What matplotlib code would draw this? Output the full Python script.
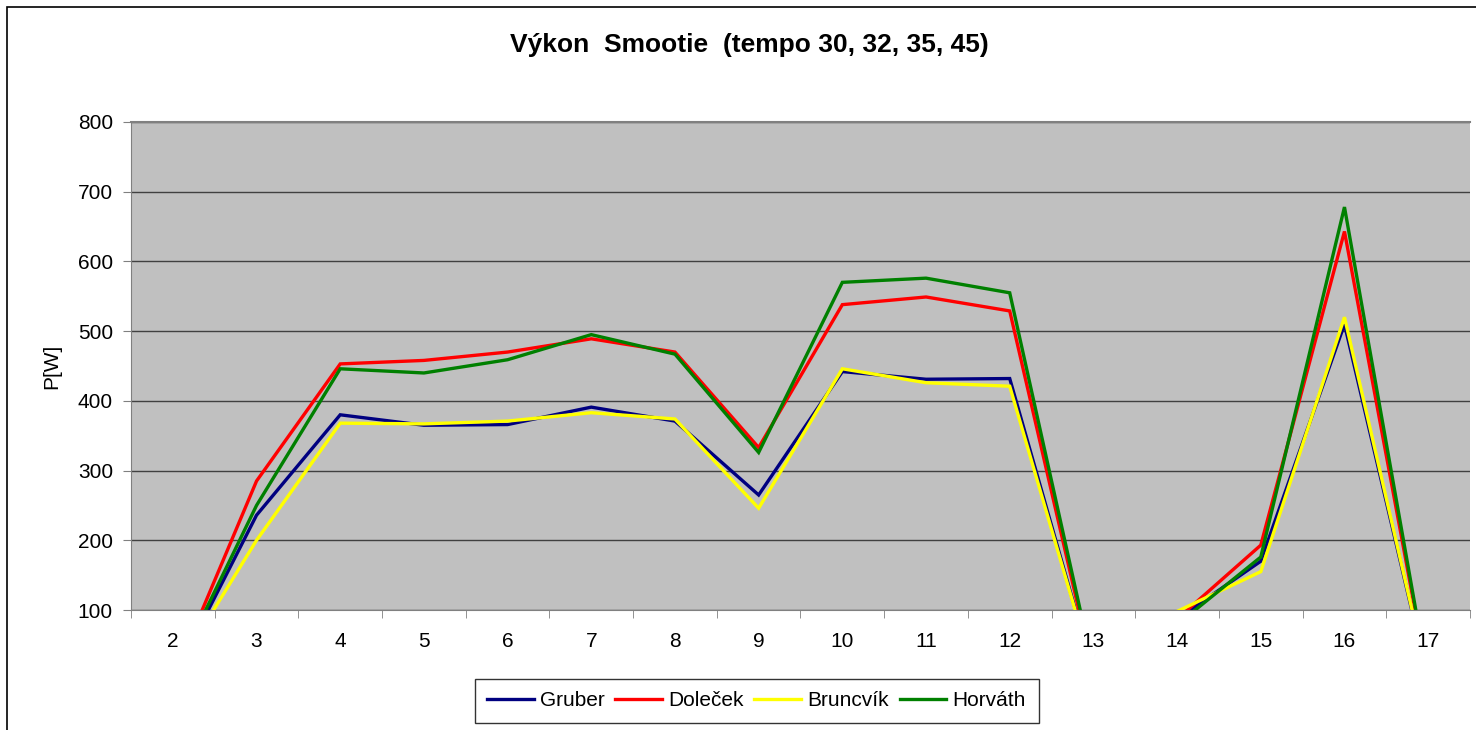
import matplotlib.pyplot as plt
from matplotlib.patches import Rectangle

plt.rcParams['font.family'] = ['Liberation Sans', 'DejaVu Sans']

# kategorie (osa x) a hodnoty výkonu [W]
categories = ['2', '3', '4', '5', '6', '7', '8', '9', '10', '11', '12', '13', '14', '15', '16', '17']
gruber = [0, 236, 380, 365, 366, 391, 371, 265, 442, 431, 432, 10, 87, 170, 510, 0]
dolecek = [0, 285, 453, 458, 470, 489, 470, 333, 538, 549, 529, 10, 87, 193, 643, 0]
bruncvik = [5, 200, 368, 367, 371, 383, 374, 246, 446, 426, 421, 10, 98, 155, 520, 0]
horvath = [3, 250, 446, 440, 459, 495, 467, 326, 570, 576, 555, 15, 79, 176, 678, 0]

series = [
    ('Gruber', gruber, '#000080'),
    ('Doleček', dolecek, '#FF0000'),
    ('Bruncvík', bruncvik, '#FFFF00'),
    ('Horváth', horvath, '#008000'),
]

fig = plt.figure(figsize=(14.76, 7.30), dpi=100)
ax = fig.add_axes([131 / 1476, 1 - 610 / 730, (1470 - 131) / 1476, (610 - 122) / 730])
ax.set_facecolor('#C0C0C0')

x = range(len(categories))
for name, vals, col in series:
    ax.plot(x, vals, color=col, lw=2.4, label=name, solid_joinstyle='miter')

ax.set_xlim(-0.5, len(categories) - 0.5)
ax.set_ylim(100, 800)
ax.set_yticks(range(100, 801, 100))
ax.set_xticks(list(x))
ax.set_xticklabels(categories)
ax.set_xticks([i - 0.5 for i in range(len(categories) + 1)], minor=True)
ax.tick_params(axis='x', which='major', length=0, labelsize=15, pad=16)
ax.tick_params(axis='x', which='minor', length=6, direction='out', color='#808080')
ax.tick_params(axis='y', length=6, direction='out', labelsize=15, pad=7, color='#808080')
ax.yaxis.grid(True, color='#404040', lw=1)
ax.set_axisbelow(True)
ax.spines['left'].set_color('#808080')
ax.spines['bottom'].set_color('#808080')
ax.spines['top'].set_color('#808080')
ax.spines['top'].set_linewidth(1.5)
ax.spines['right'].set_visible(False)

ax.set_ylabel('P[W]', fontsize=15, labelpad=12)

fig.text(0.508, 1 - 45 / 730, 'Výkon  Smootie  (tempo 30, 32, 35, 45)',
         ha='center', va='center', fontsize=19, fontweight='bold')

leg = fig.legend(loc='center', bbox_to_anchor=(756.5 / 1476, 1 - 701 / 730), ncol=4,
                 frameon=True, fancybox=False, fontsize=15, handlelength=2.25,
                 handletextpad=0.3, columnspacing=0.5, borderpad=0.6)
leg.get_frame().set_edgecolor('black')
leg.get_frame().set_linewidth(1)

# rámeček grafu
fig.patches.append(Rectangle((7 / 1476, -0.1), 1.2, 1 - 7 / 730 + 0.1,
                             transform=fig.transFigure, fill=False,
                             edgecolor='black', lw=1.2))

fig.savefig('out.png', dpi=100)
